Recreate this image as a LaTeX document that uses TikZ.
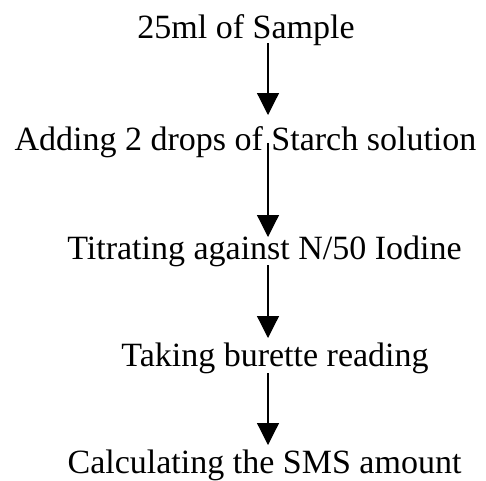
\documentclass[tikz,border=0pt]{standalone}
\usepackage{fontspec}
\setmainfont{Liberation Serif}
\usetikzlibrary{arrows.meta}

\tikzset{
  steptext/.style={anchor=base,inner sep=0pt,font=\fontsize{34}{40}\selectfont},
  flowline/.style={line width=1.2pt,-{Triangle[width=22pt,length=22pt]}}
}

\begin{document}
\begin{tikzpicture}[x=1pt,y=1pt,yscale=-1,xscale=1]
    \useasboundingbox (0,0) rectangle (486,480);
    % arrow axis
    \coordinate (axis) at (268,0);

    % Text Node
    \node[steptext] (sample) at (246,38) {25ml of Sample};
    % Text Node
    \node[steptext] (starch) at (245.5,150) {Adding 2 drops of Starch solution};
    % Text Node
    \node[steptext] (titrate) at (264.5,259) {Titrating against N/50 Iodine};
    % Text Node
    \node[steptext] (burette) at (275,366) {Taking burette reading};
    % Text Node
    \node[steptext] (sms) at (264.5,473) {Calculating the SMS amount};

    %Straight Lines (yshift follows yscale=-1, so + is down)
    \draw[flowline] ([yshift=5pt]axis |- sample.base) -- ([yshift=-35pt]axis |- starch.base);
    %Straight Lines
    \draw[flowline] ([yshift=-7pt]axis |- starch.base) -- ([yshift=-22pt]axis |- titrate.base);
    %Straight Lines
    \draw[flowline] ([yshift=6pt]axis |- titrate.base) -- ([yshift=-28pt]axis |- burette.base);
    %Straight Lines
    \draw[flowline] ([yshift=7pt]axis |- burette.base) -- ([yshift=-28pt]axis |- sms.base);

\end{tikzpicture}
\end{document}
